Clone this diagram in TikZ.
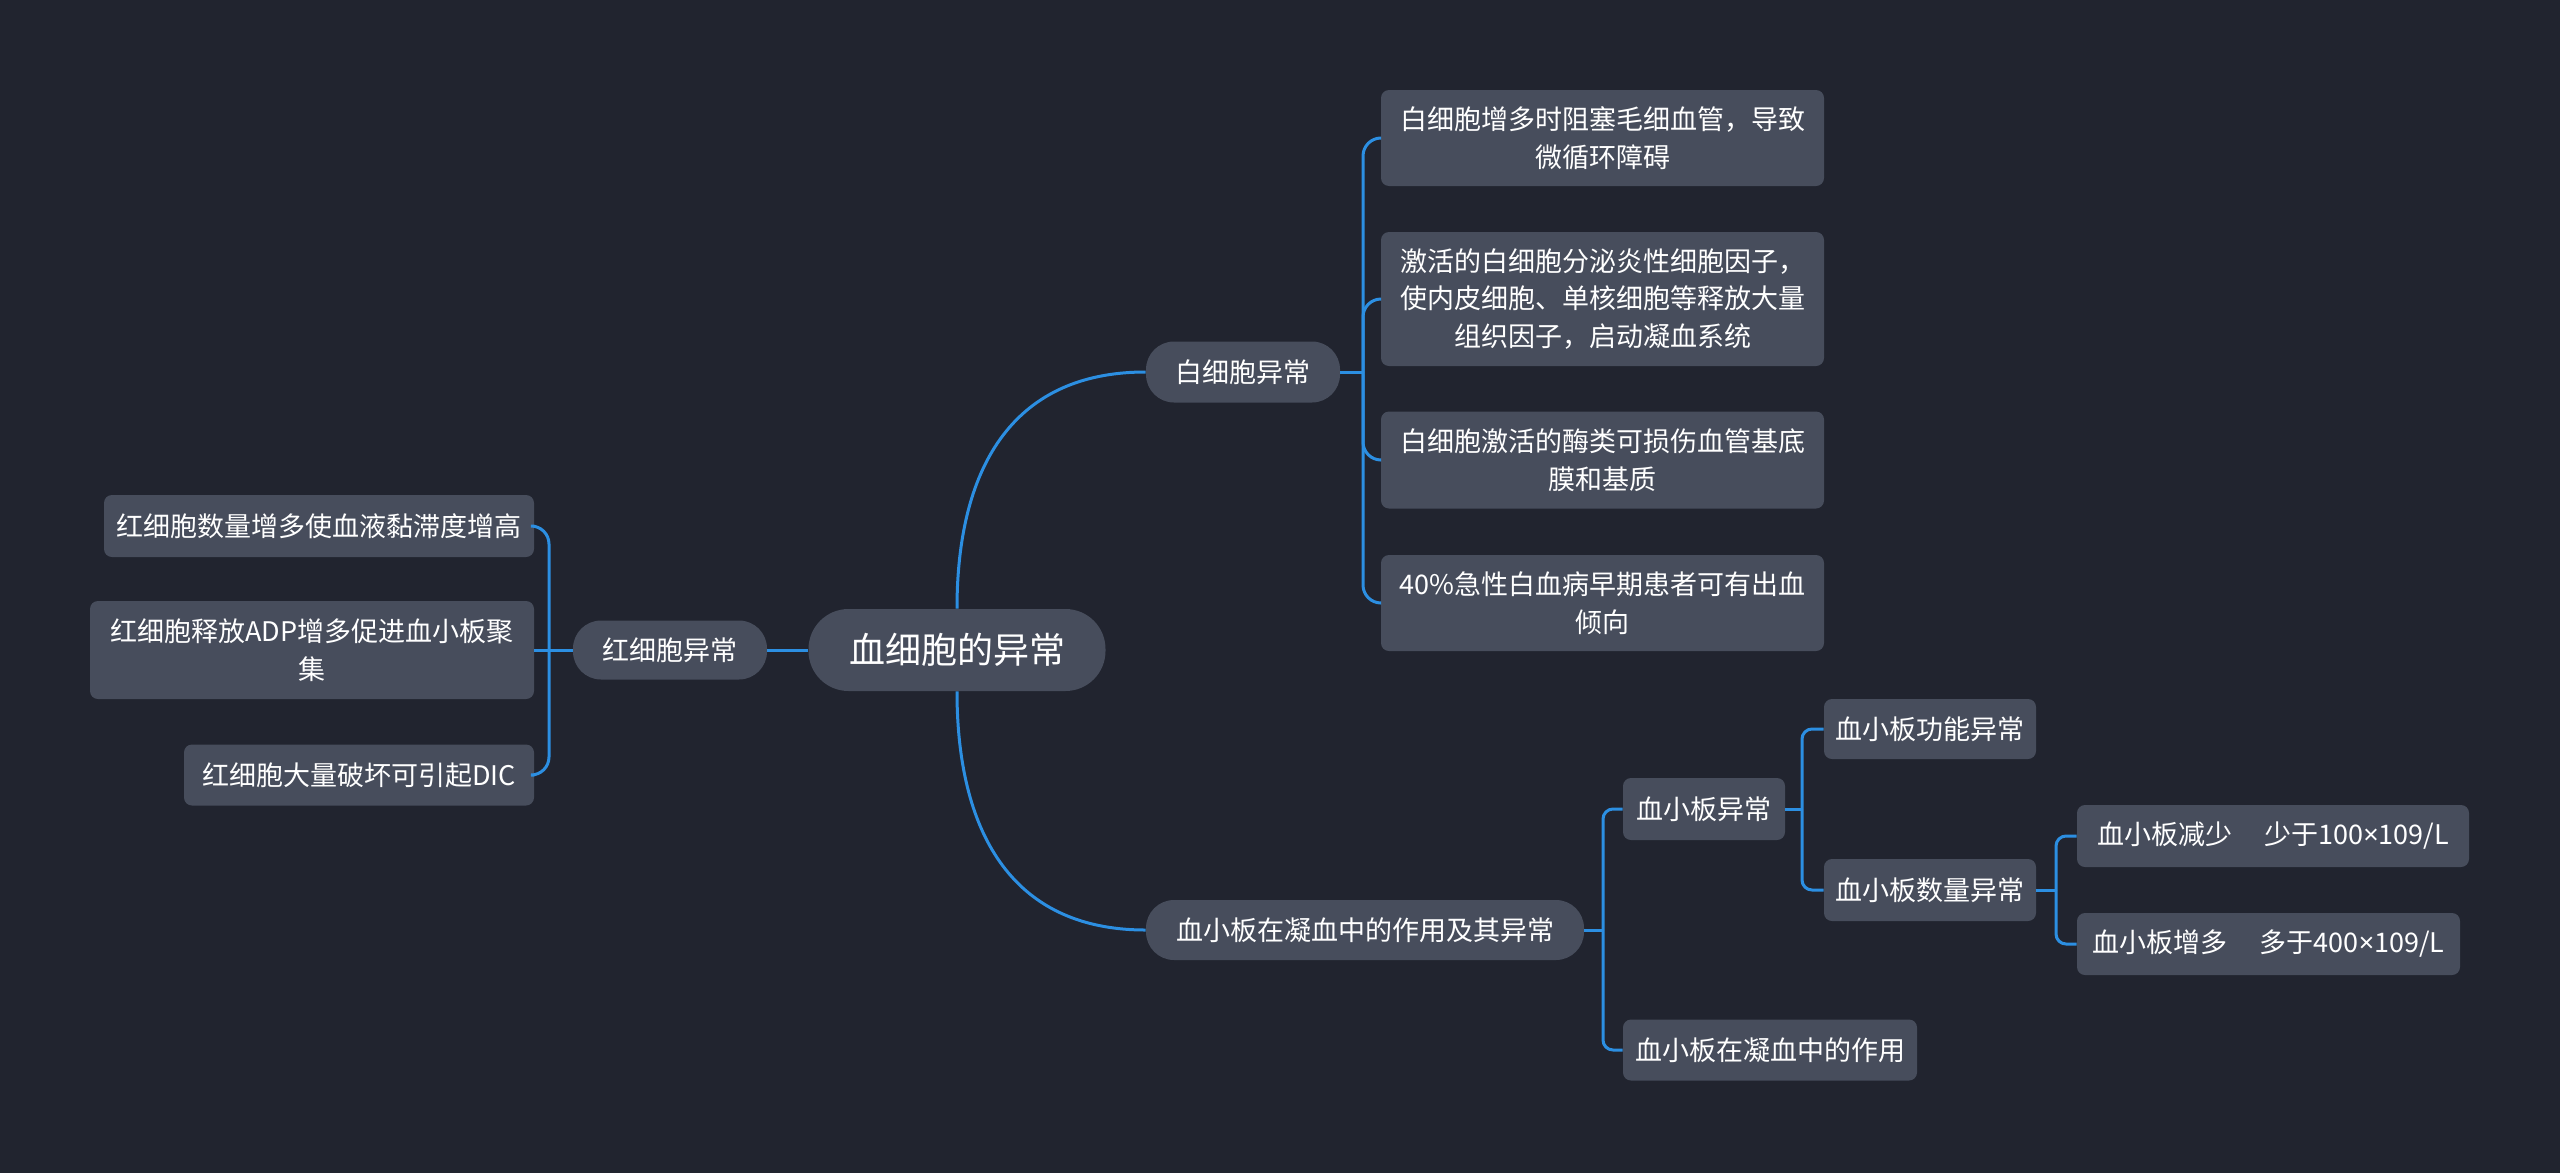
\documentclass[tikz,border=0pt]{standalone}
\usepackage{fontspec}
\setmainfont{Noto Sans CJK SC}
\newfontfamily\latfont{Noto Sans}
\definecolor{bgc}{HTML}{21242F}
\definecolor{nodefill}{HTML}{474D5C}
\definecolor{lineblue}{HTML}{2C8FE2}
\begin{document}
\begin{tikzpicture}[x=0.5pt,y=-0.5pt,
  leaf/.style={fill=nodefill, rounded corners=4pt, text=white, align=center, inner sep=0pt,
    font=\fontsize{13.5pt}{18.8pt}\selectfont},
  pill/.style={leaf, rounded corners=14pt},
  rootbox/.style={leaf, rounded corners=20pt, font=\fontsize{18pt}{22pt}\selectfont},
  link/.style={draw=lineblue, line width=1.5pt},
  brk/.style={link, rounded corners=9pt},
  sbrk/.style={link, rounded corners=5pt}]
\fill[bgc] (0,0) rectangle (2560,1173);
\useasboundingbox (0,0) rectangle (2560,1173);

% root and main branches
\node[rootbox, minimum width=148.5pt, minimum height=41pt] (root) at (957,650) {血细胞的异常};
\node[pill, minimum width=97pt, minimum height=29.5pt] (rbc) at (670,650) {红细胞异常};
\node[pill, minimum width=97pt, minimum height=30.5pt] (wbc) at (1243,372) {白细胞异常};
\node[pill, minimum width=219pt, minimum height=30pt] (plt) at (1365,930) {血小板在凝血中的作用及其异常};

% red cell leaves
\node[leaf, minimum width=215pt, minimum height=31pt] (L1) at (319,526) {红细胞数量增多使血液黏滞度增高};
\node[leaf, minimum width=222pt, minimum height=49pt] (L2) at (312,650) {红细胞释放ADP增多促进血小板聚\\集};
\node[leaf, minimum width=175pt, minimum height=30.5pt] (L3) at (359,775) {红细胞大量破坏可引起DIC};

% white cell leaves
\node[leaf, minimum width=221.5pt, minimum height=48pt] (W1) at (1602.5,138) {白细胞增多时阻塞毛细血管，导致\\微循环障碍};
\node[leaf, minimum width=221.5pt, minimum height=67pt] (W2) at (1602.5,299) {激活的白细胞分泌炎性细胞因子，\\使内皮细胞、单核细胞等释放大量\\组织因子，启动凝血系统};
\node[leaf, minimum width=221.5pt, minimum height=48.5pt] (W3) at (1602.5,460) {白细胞激活的酶类可损伤血管基底\\膜和基质};
\node[leaf, minimum width=221.5pt, minimum height=48pt] (W4) at (1602.5,603) {40\%急性白血病早期患者可有出血\\倾向};

% platelet subtree
\node[leaf, minimum width=81pt, minimum height=31pt] (P1) at (1704,809) {血小板异常};
\node[leaf, minimum width=147pt, minimum height=30.5pt] (P2) at (1770,1050) {血小板在凝血中的作用};
\node[leaf, minimum width=106pt, minimum height=30pt] (P11) at (1930,729) {血小板功能异常};
\node[leaf, minimum width=106pt, minimum height=31pt] (P12) at (1930,890) {血小板数量异常};
\node[leaf, minimum width=196pt, minimum height=31pt] (P121) at (2273,836) {血小板减少\hspace{1.2em}少于100{\latfont ×}109/L};
\node[leaf, minimum width=191.5pt, minimum height=31pt] (P122) at (2268.5,944) {血小板增多\hspace{1.2em}多于400{\latfont ×}109/L};

% connectors from root
\draw[link] (root.west) -- (rbc.east);
\draw[link] (root.north) to[out=90,in=180,looseness=1.15] (wbc.west);
\draw[link] (root.south) to[out=-90,in=180,looseness=1.15] (plt.west);

% red cell bracket
\coordinate (rb) at (549,650);
\draw[link] (rbc.west) -- (L2.east);
\draw[brk] (rb) |- (L1.east);
\draw[brk] (rb) |- (L3.east);

% white cell bracket
\coordinate (wb) at (1363,372);
\draw[link] (wbc.east) -- (wb);
\foreach \n in {W1,W2,W3,W4} \draw[brk] (wb) |- (\n.west);

% platelet brackets
\coordinate (pb) at (1603,930);
\draw[link] (plt.east) -- (pb);
\draw[sbrk] (pb) |- (P1.west);
\draw[sbrk] (pb) |- (P2.west);

\coordinate (p1b) at (1802,809);
\draw[link] (P1.east) -- (p1b);
\draw[sbrk] (p1b) |- (P11.west);
\draw[sbrk] (p1b) |- (P12.west);

\coordinate (p12b) at (2056,890);
\draw[link] (P12.east) -- (p12b);
\draw[sbrk] (p12b) |- (P121.west);
\draw[sbrk] (p12b) |- (P122.west);
\end{tikzpicture}
\end{document}
